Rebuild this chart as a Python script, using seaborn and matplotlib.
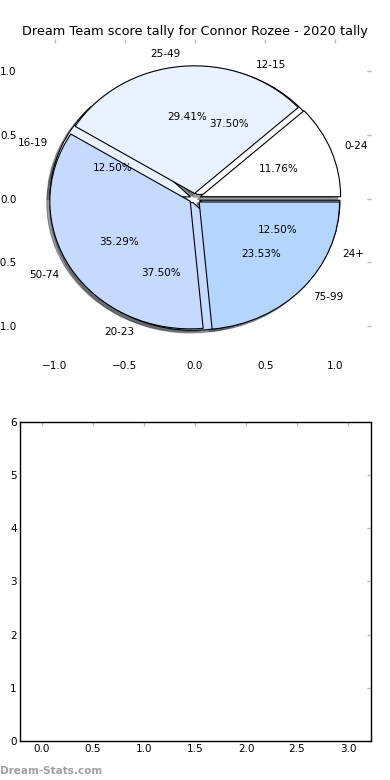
import numpy as np
import matplotlib
matplotlib.use('Agg')
import matplotlib.pyplot as plt
import seaborn as sns

# Dane: dwa zestawy przedziałów punktowych
score_labels = ['0-24', '25-49', '50-74', '75-99']
score_counts = [2, 5, 6, 4]
tally_labels = ['12-15', '16-19', '20-23', '24+']
tally_counts = [3, 1, 3, 1]
pie_colors = ['#ffffff', '#eaf1ff', '#c6d9ff', '#b4d5ff']
title = 'Dream Team score tally for Connor Rozee - 2020 tally'

sns.set_style('white')
plt.rcParams['font.family'] = ['DejaVu Sans']
plt.rcParams['text.color'] = 'black'

fig = plt.figure(figsize=(3.9, 7.8), dpi=100)
ax1 = fig.add_subplot(211)
ax2 = fig.add_subplot(212)
fig.subplots_adjust(left=0.05, right=0.95, bottom=0.05, top=0.95, hspace=0.2)

wedge_kw = dict(edgecolor='black', linewidth=0.8)
txt_kw = dict(fontsize=7.5, color='black')

# drugi wykres kołowy pod spodem
ax1.pie(tally_counts, labels=tally_labels, colors=pie_colors, explode=[0.035] * 4,
        autopct='%1.2f%%', shadow={'ox': -0.015, 'oy': -0.015},
        wedgeprops=wedge_kw, textprops=txt_kw)
ax1.pie(score_counts, labels=score_labels, colors=pie_colors, explode=[0.04] * 4,
        autopct='%1.2f%%', shadow={'ox': -0.015, 'oy': -0.015},
        wedgeprops=wedge_kw, textprops=txt_kw)

ax1.set_aspect('auto')
ax1.set_xlim(-1.25, 1.25)
ax1.set_ylim(-1.25, 1.25)
ax1.set_xticks(np.arange(-1.0, 1.01, 0.5))
ax1.set_yticks(np.arange(-1.0, 1.01, 0.5))
ax1.set_frame_on(False)
ax1.set_title(title, fontsize=9.3, pad=3, color='black')

# pusty dolny wykres
ax2.set_xlim(-0.22, 3.22)
ax2.set_ylim(0, 6)
ax2.set_xticks(np.arange(0, 3.01, 0.5))
ax2.set_yticks(range(0, 7))
for s in ax2.spines.values():
    s.set_color('black')
    s.set_linewidth(1)

for ax in (ax1, ax2):
    ax.tick_params(direction='in', top=True, right=True, length=3, width=1,
                   color='#bbbbbb', labelsize=7.5, labelcolor='black', pad=2)

fig.text(0.0, 0.005, 'Dream-Stats.com', color='#a0a0a0', fontsize=7.5,
         fontweight='bold', ha='left', va='bottom')

plt.savefig('out.png', dpi=100)
